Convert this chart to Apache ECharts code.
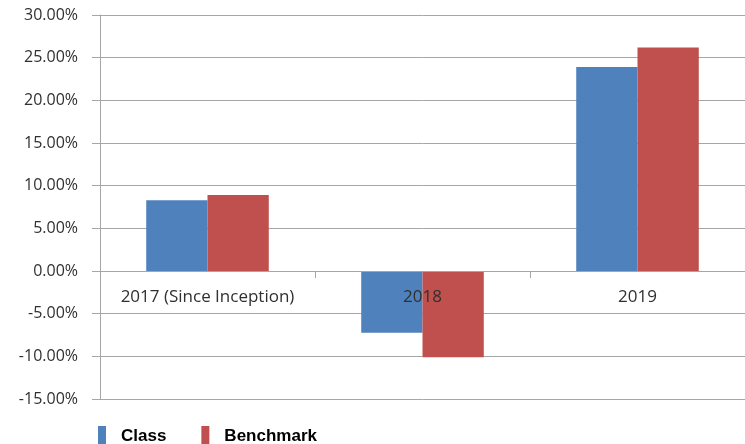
<!DOCTYPE html>
<html>
<head>
<meta charset="utf-8">
<script src="https://cdn.jsdelivr.net/npm/echarts@6/dist/echarts.min.js"></script>
<style>html,body{margin:0;padding:0;background:#fff}#c{width:745px;height:444px}</style>
</head>
<body>
<div id="c"></div>
<script>
const categories = ['2017 (Since Inception)', '2018', '2019'];
const classValues = [8.3, -7.25, 23.9];
const benchmarkValues = [8.9, -10.1, 26.2];
const seriesNames = ['Class', 'Benchmark'];
const yMin = -15, yMax = 30, yStep = 5;

const gridTop = 15, gridHeight = 384;
// shift the category axis up to the zero line (computed from the value range)
const zeroOffset = -gridHeight * (0 - yMin) / (yMax - yMin);

const chart = echarts.init(document.getElementById('c'), null, {renderer: 'canvas'});
const gray = '#a6a6a6';
chart.setOption({
  animation: false,
  backgroundColor: '#fff',
  grid: {left: 100, top: gridTop, width: 649, height: gridHeight, containLabel: false},
  legend: {
    data: seriesNames,
    left: 93, top: 421,
    itemWidth: 8, itemHeight: 20,
    itemGap: 35,
    icon: 'rect',
    textStyle: {fontFamily: 'Liberation Sans', fontWeight: 'bold', fontSize: 17, color: '#000', padding: [0, 0, 0, 10]}
  },
  xAxis: {
    type: 'category',
    data: categories,
    position: 'bottom',
    offset: zeroOffset,
    z: 10,
    axisLine: {onZero: false, lineStyle: {color: gray, width: 1}},
    axisTick: {show: true, length: 7, lineStyle: {color: gray}},
    axisLabel: {margin: 18, fontFamily: 'Open Sans', fontSize: 17, color: '#303030', interval: 0},
    splitLine: {show: false}
  },
  yAxis: {
    type: 'value',
    min: yMin, max: yMax, interval: yStep,
    axisLine: {show: true, lineStyle: {color: gray, width: 1}},
    axisTick: {show: true, length: 8, lineStyle: {color: gray}},
    axisLabel: {margin: 22, fontFamily: 'Open Sans', fontSize: 16, color: '#303030',
      formatter: v => v.toFixed(2) + '%'},
    splitLine: {show: true, lineStyle: {color: gray, width: 1}}
  },
  series: [
    {name: seriesNames[0], type: 'bar', data: classValues, barGap: '0%', barCategoryGap: '43%',
      itemStyle: {color: '#4f81bd'}},
    {name: seriesNames[1], type: 'bar', data: benchmarkValues, barGap: '0%', barCategoryGap: '43%',
      itemStyle: {color: '#c0504d'}}
  ]
});
</script>
</body>
</html>
